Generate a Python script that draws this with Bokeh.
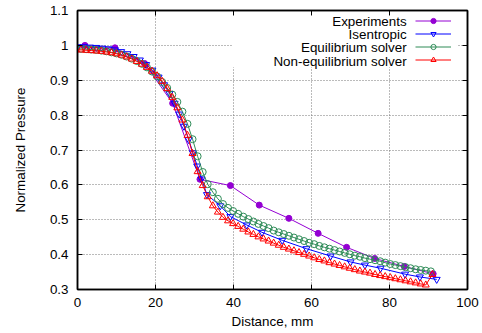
from bokeh.plotting import figure
from bokeh.models import (LinearAxis, FixedTicker, CustomJSTickFormatter, Label,
                          Legend, LegendItem, BoxAnnotation, Range1d)
from bokeh.embed import file_html
from bokeh.resources import INLINE

# ---------------- data ----------------
x_ticks = [0, 20, 40, 60, 80, 100]
y_ticks = [0.3, 0.4, 0.5, 0.6, 0.7, 0.8, 0.9, 1.0, 1.1]

exp_x = [1.9, 9.6, 17.2, 24.4, 31.4, 39.2, 46.6, 54.2, 61.7, 69.0, 76.2, 83.8, 91.2]
exp_y = [1.0, 0.993, 0.948, 0.834, 0.616, 0.598, 0.542, 0.504, 0.461, 0.421, 0.389, 0.366, 0.345]

isen_x = [0.0, 1.6, 3.2, 4.8, 6.4, 8.0, 9.6, 11.2, 12.8, 14.4,
          16.0, 17.6, 19.2, 20.8, 22.2, 23.6, 24.9, 26.1, 27.3, 28.5,
          29.6, 30.7, 31.8, 33.2, 36.6, 39.2, 43.4, 47.3, 52.5, 58.7,
          64.9, 70.0, 73.7, 77.7, 84.0, 87.8, 92.1]
isen_y = [0.996, 0.996, 0.995, 0.994, 0.992, 0.990, 0.987, 0.982, 0.976, 0.968,
          0.958, 0.945, 0.929, 0.909, 0.887, 0.862, 0.834, 0.803, 0.768, 0.730,
          0.692, 0.654, 0.617, 0.572, 0.540, 0.509, 0.485, 0.464, 0.441, 0.417,
          0.396, 0.379, 0.370, 0.361, 0.344, 0.336, 0.329]

eq_x = [-0.4, 0.9, 2.2, 3.5, 4.8, 6.1, 7.4, 8.7, 10.0, 11.3,
        12.6, 13.9, 15.2, 16.5, 17.8, 19.1, 20.4, 21.7, 23.0, 24.3,
        25.6, 26.9, 28.2, 29.5, 30.8, 32.1, 33.4, 34.7, 36.0, 37.3,
        38.6, 39.9, 41.2, 42.5, 43.8, 45.1, 46.4, 47.7, 49.0, 50.3,
        51.6, 52.9, 54.2, 55.5, 56.8, 58.1, 59.4, 60.7, 62.0, 63.3,
        64.6, 65.9, 67.2, 68.5, 69.8, 71.1, 72.4, 73.7, 75.0, 76.3,
        77.6, 78.9, 80.2, 81.5, 82.8, 84.1, 85.4, 86.7, 88.0, 89.3,
        90.6]
eq_y = [0.990, 0.990, 0.989, 0.988, 0.987, 0.985, 0.983, 0.980, 0.977, 0.973,
        0.968, 0.962, 0.955, 0.947, 0.937, 0.925, 0.911, 0.895, 0.878, 0.859,
        0.838, 0.810, 0.775, 0.731, 0.682, 0.637, 0.602, 0.579, 0.560, 0.545,
        0.534, 0.525, 0.517, 0.509, 0.502, 0.495, 0.488, 0.482, 0.476, 0.469,
        0.464, 0.459, 0.454, 0.449, 0.444, 0.439, 0.434, 0.430, 0.425, 0.421,
        0.417, 0.413, 0.409, 0.405, 0.401, 0.397, 0.394, 0.390, 0.387, 0.384,
        0.381, 0.377, 0.373, 0.370, 0.367, 0.364, 0.361, 0.358, 0.356, 0.354,
        0.352]

neq_x = [-0.4, 0.9, 2.2, 3.5, 4.8, 6.1, 7.4, 8.7, 10.0, 11.3,
         12.6, 13.9, 15.2, 16.5, 17.8, 19.1, 20.4, 21.7, 23.0, 24.3,
         25.6, 26.9, 28.2, 29.5, 30.8, 32.1, 33.4, 34.7, 36.0, 37.3,
         38.6, 39.9, 41.2, 42.5, 43.8, 45.1, 46.4, 47.7, 49.0, 50.3,
         51.6, 52.9, 54.2, 55.5, 56.8, 58.1, 59.4, 60.7, 62.0, 63.3,
         64.6, 65.9, 67.2, 68.5, 69.8, 71.1, 72.4, 73.7, 75.0, 76.3,
         77.6, 78.9, 80.2, 81.5, 82.8, 84.1, 85.4, 86.7, 88.0, 89.3,
         91.0]
neq_y = [0.987, 0.987, 0.986, 0.985, 0.984, 0.983, 0.981, 0.979, 0.976, 0.972,
         0.967, 0.961, 0.954, 0.946, 0.937, 0.926, 0.913, 0.897, 0.876, 0.851,
         0.821, 0.786, 0.742, 0.690, 0.638, 0.598, 0.566, 0.540, 0.522, 0.507,
         0.497, 0.489, 0.481, 0.473, 0.465, 0.458, 0.451, 0.445, 0.439, 0.433,
         0.427, 0.421, 0.416, 0.411, 0.406, 0.401, 0.396, 0.391, 0.386, 0.382,
         0.377, 0.373, 0.369, 0.365, 0.361, 0.357, 0.353, 0.350, 0.347, 0.343,
         0.340, 0.337, 0.334, 0.331, 0.328, 0.325, 0.322, 0.319, 0.316, 0.313,
         0.343]

names = ["Experiments", "Isentropic", "Equilibrium solver", "Non-equilibrium solver"]
colors = ["#9400d3", "#0000ff", "#2e8b57", "#ff0000"]

FONT = "Liberation Sans"
FS = "13.4px"

# ---------------- figure ----------------
p = figure(width=482, height=333, output_backend="svg", toolbar_location=None,
           x_range=Range1d(0, 100), y_range=Range1d(0.3, 1.1),
           min_border_left=77, min_border_right=15, min_border_top=10, min_border_bottom=44)
p.background_fill_color = "white"
p.border_fill_color = "white"
p.outline_line_color = "black"
p.outline_line_width = 1.5

xa = p.xaxis[0]
ya = p.yaxis[0]

xt = FixedTicker(ticks=x_ticks)
yt = FixedTicker(ticks=y_ticks)
yfmt = CustomJSTickFormatter(code="return String(Math.round(tick*10)/10)")
blank = CustomJSTickFormatter(code="return ''")

xa.ticker = xt
ya.ticker = yt
ya.formatter = yfmt
p.xgrid.ticker = xt
p.ygrid.ticker = yt
for g in (p.xgrid, p.ygrid):
    g.grid_line_color = "#777777"
    g.grid_line_dash = "1 2"
    g.grid_line_width = 1

top_ax = LinearAxis(ticker=xt, formatter=blank)
right_ax = LinearAxis(ticker=yt, formatter=blank)

for ax in (xa, ya, top_ax, right_ax):
    ax.major_tick_in = 5
    ax.major_tick_out = 0
    ax.minor_tick_in = 0
    ax.minor_tick_out = 0
    ax.axis_line_color = "black"
    ax.axis_line_width = 1.5
    ax.major_tick_line_color = "black"
    ax.major_tick_line_width = 1
    ax.major_label_text_font = FONT
    ax.major_label_text_font_size = FS
    ax.major_label_text_color = "black"
    ax.axis_label_text_font = FONT
    ax.axis_label_text_font_size = FS
    ax.axis_label_text_font_style = "normal"
    ax.axis_label_text_color = "black"

for ax in (top_ax, right_ax):
    ax.major_label_standoff = 0
p.add_layout(top_ax, "above")
p.add_layout(right_ax, "right")

xa.axis_label = "Distance, mm"
ya.axis_label = "Normalized Pressure"
xa.major_label_standoff = 8
ya.major_label_standoff = 9
xa.axis_label_standoff = 4
ya.axis_label_standoff = 19

# ---------------- series ----------------
l1 = p.line(exp_x, exp_y, line_color=colors[0], line_width=1)
s1 = p.scatter(exp_x, exp_y, marker="circle", size=6, fill_color=colors[0], line_color=colors[0])

l2 = p.line(isen_x, isen_y, line_color=colors[1], line_width=1)
s2 = p.scatter(isen_x, isen_y, marker="inverted_triangle", size=7, fill_color=None,
               line_color=colors[1], line_width=1)

l3 = p.line(eq_x, eq_y, line_color=colors[2], line_width=1)
s3 = p.scatter(eq_x, eq_y, marker="circle", size=7, fill_color=None,
               line_color=colors[2], line_width=1)

l4 = p.line(neq_x, neq_y, line_color=colors[3], line_width=1)
s4 = p.scatter(neq_x, neq_y, marker="triangle", size=7, fill_color=None,
               line_color=colors[3], line_width=1)

# ---------------- key ----------------
p.add_layout(BoxAnnotation(left=39.6, right=97.3, bottom=0.937, top=1.085,
                           fill_color="white", fill_alpha=1, line_alpha=0))

legend = Legend(items=[LegendItem(label=" ", renderers=[l, s])
                       for l, s in ((l1, s1), (l2, s2), (l3, s3), (l4, s4))],
                location=(338, 223), orientation="vertical",
                glyph_width=36, glyph_height=13, label_height=13, label_width=0,
                label_standoff=0, spacing=0, padding=0, margin=0,
                background_fill_alpha=0, border_line_alpha=0,
                label_text_font_size="1px")
p.add_layout(legend)

row_y = [1.0693, 1.0312, 0.9931, 0.9547]
for name, ry in zip(names, row_y):
    p.add_layout(Label(x=84.4, y=ry, text=name, text_align="right", text_baseline="middle",
                       text_font=FONT, text_font_size=FS, text_color="black"))

open("out.html", "w").write(file_html(p, INLINE))
